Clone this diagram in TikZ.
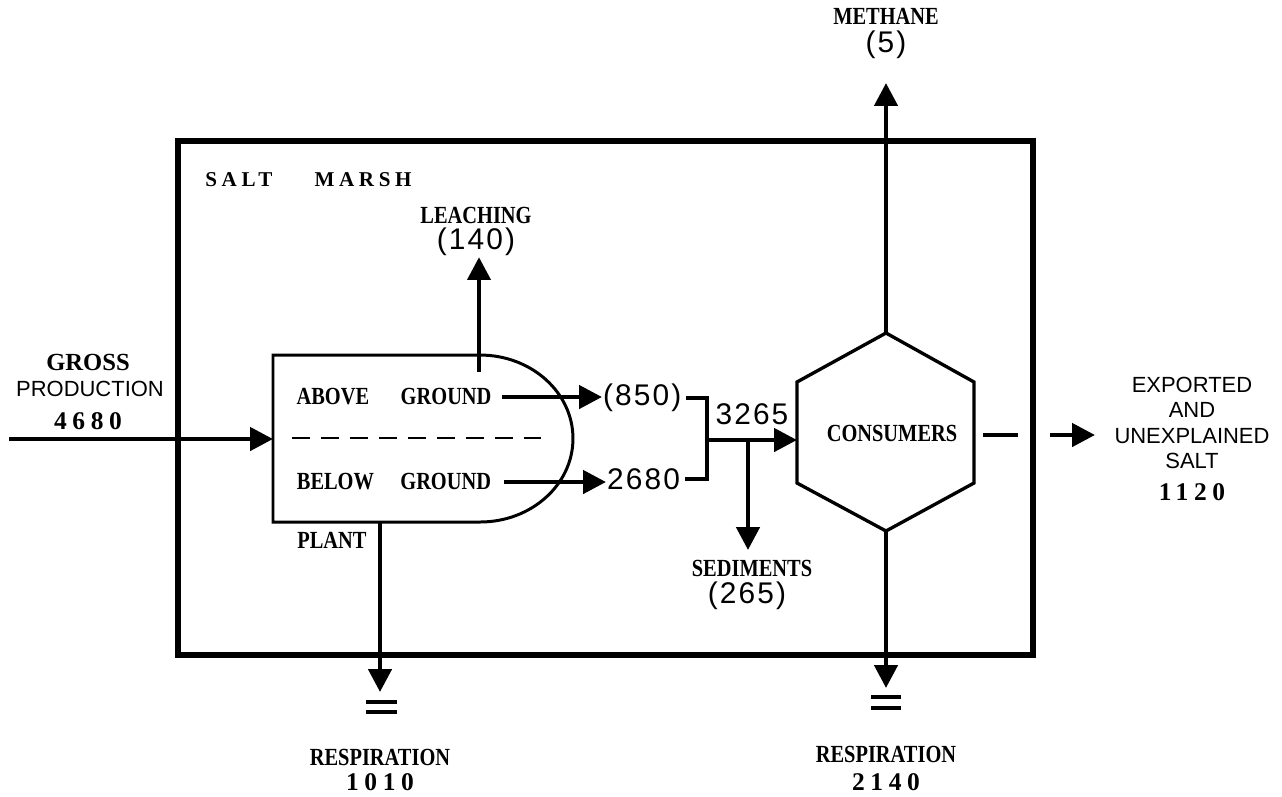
\documentclass[tikz,border=0pt]{standalone}
\usepackage{fontspec}
\setmainfont{Liberation Serif}
\setsansfont{Liberation Sans}
\newfontfamily\condserif{Liberation Serif}[FakeStretch=0.83]
\newfontfamily\wideserif{Liberation Serif}[LetterSpace=22]
\newfontfamily\spacedsans{Liberation Sans}[LetterSpace=7]
\usetikzlibrary{positioning, arrows.meta}

\begin{document}
\begin{tikzpicture}[x=0.02cm, y=-0.02cm,
  lbl/.style={font=\condserif\bfseries\fontsize{14}{16}\selectfont, inner sep=0pt},
  serif/.style={font=\bfseries\fontsize{14}{16}\selectfont, inner sep=0pt},
  title/.style={font=\wideserif\bfseries\fontsize{12}{14}\selectfont, inner sep=0pt},
  bignum/.style={font=\wideserif\bfseries\fontsize{14.5}{16}\selectfont, inner sep=0pt},
  num/.style={font=\spacedsans\fontsize{17}{19}\selectfont, inner sep=0.5pt},
  word/.style={font=\sffamily\fontsize{12.5}{14.5}\selectfont, inner sep=0pt, align=center},
  flow/.style={-{Triangle[length=13pt, width=13pt]}, line width=2.6pt},
  frame/.style={line width=3pt},
  outline/.style={line width=1.7pt},
  hexline/.style={line width=1.9pt},
  split/.style={line width=1.6pt, dash pattern=on 10pt off 6.5pt},
  bracket/.style={line width=2pt},
  stub/.style={line width=2.8pt},
  earth/.style={line width=2pt},
]
\useasboundingbox (0,0) rectangle (1282,796);

% Salt marsh boundary
\draw[frame] (178,141) rectangle (1033,655);
\node[title, anchor=west] (marsh) at (205,180) {SALT\hspace{24pt}MARSH};

% Gross production input
\node[serif] (gross) at (88,362) {GROSS};
\node[word] (prod) at (90,389) {PRODUCTION};
\node[bignum] (n4680) at (88,421) {4680};
\coordinate (grossIn) at (9,439);
\coordinate (plantW) at (273,439);
\draw[flow] (grossIn) -- (plantW);

% Plant
\draw[outline] (480,355) -- (273,355) -- (273,522) -- (480,522)
  arc[start angle=-90, end angle=90, x radius=1.86cm, y radius=1.67cm];
\draw[split] (292,438) -- (552,438);
\node[lbl] (above) at (394,397) {ABOVE\hspace{18pt}GROUND};
\node[lbl] (below) at (394,482) {BELOW\hspace{15pt}GROUND};
\node[lbl] (plant) at (332,540) {PLANT};

% Leaching
\coordinate (leachFoot) at (479,372);
\node[lbl] (leach) at (476,215) {LEACHING};
\node[num] (n140) at (476,242) {(140)};
\draw[flow] (leachFoot) -- (leachFoot |- n140.south);

% Above and below ground flows
\node[num, anchor=west] (n850) at (602,398) {(850)};
\node[num, anchor=west] (n2680) at (606,479) {2680};
\draw[flow] ([xshift=6pt]above.east) -- (above.east -| n850.west);
\draw[flow] ([xshift=7pt]below.east) -- (below.east -| n2680.west);

% Bracket and total to consumers
\coordinate (brMid) at (707,440);
\coordinate (hexW) at (797,440);
\draw[bracket] ([xshift=2pt]n850.east) -| (brMid) |- ([xshift=2pt]n2680.east);
\node[num] (n3265) at (752,414) {3265};
\draw[flow] (brMid) -- (hexW);

% Sediments
\coordinate (sedTop) at (748,440);
\coordinate (sedTip) at (748,550);
\draw[flow] (sedTop) -- (sedTip);
\node[lbl] (sed) at (752,568) {SEDIMENTS};
\node[num] (n265) at (747,596) {(265)};

% Consumers
\coordinate (hexN) at (886,333);
\coordinate (hexNE) at (974,382);
\coordinate (hexSE) at (974,483);
\coordinate (hexS) at (886,531);
\coordinate (hexSW) at (797,483);
\coordinate (hexNW) at (797,382);
\draw[hexline] (hexN) -- (hexNE) -- (hexSE) -- (hexS) -- (hexSW) -- (hexNW) -- cycle;
\node[lbl] (cons) at (892,433) {CONSUMERS};

% Methane
\node[lbl] (meth) at (886,16) {METHANE};
\node[num] (n5) at (886,45) {(5)};
\coordinate (methTip) at (886,83);
\draw[flow] (hexN) -- (methTip);

% Export
\coordinate (expA) at (983,435);
\coordinate (expB) at (1018,435);
\coordinate (expC) at (1050,435);
\coordinate (expD) at (1095,435);
\draw[stub] (expA) -- (expB);
\draw[flow] (expC) -- (expD);
\node[word] (export) at (1192,423) {EXPORTED\\AND\\UNEXPLAINED\\SALT};
\node[bignum] (n1120) at (1192,492) {1120};

% Respiration
\coordinate (plantRes) at (380,522);
\coordinate (plantResTip) at (380,692);
\draw[flow] (plantRes) -- (plantResTip);
\draw[earth] (366,702) -- (397,702) (366,712) -- (397,712);
\node[lbl] (resp1) at (380,757) {RESPIRATION};
\node[bignum] (n1010) at (380,782) {1010};

\coordinate (consResTip) at (886,688);
\draw[flow] (hexS) -- (consResTip);
\draw[earth] (871,697) -- (901,697) (871,708) -- (901,708);
\node[lbl] (resp2) at (886,754) {RESPIRATION};
\node[bignum] (n2140) at (886,782) {2140};

\end{tikzpicture}
\end{document}
